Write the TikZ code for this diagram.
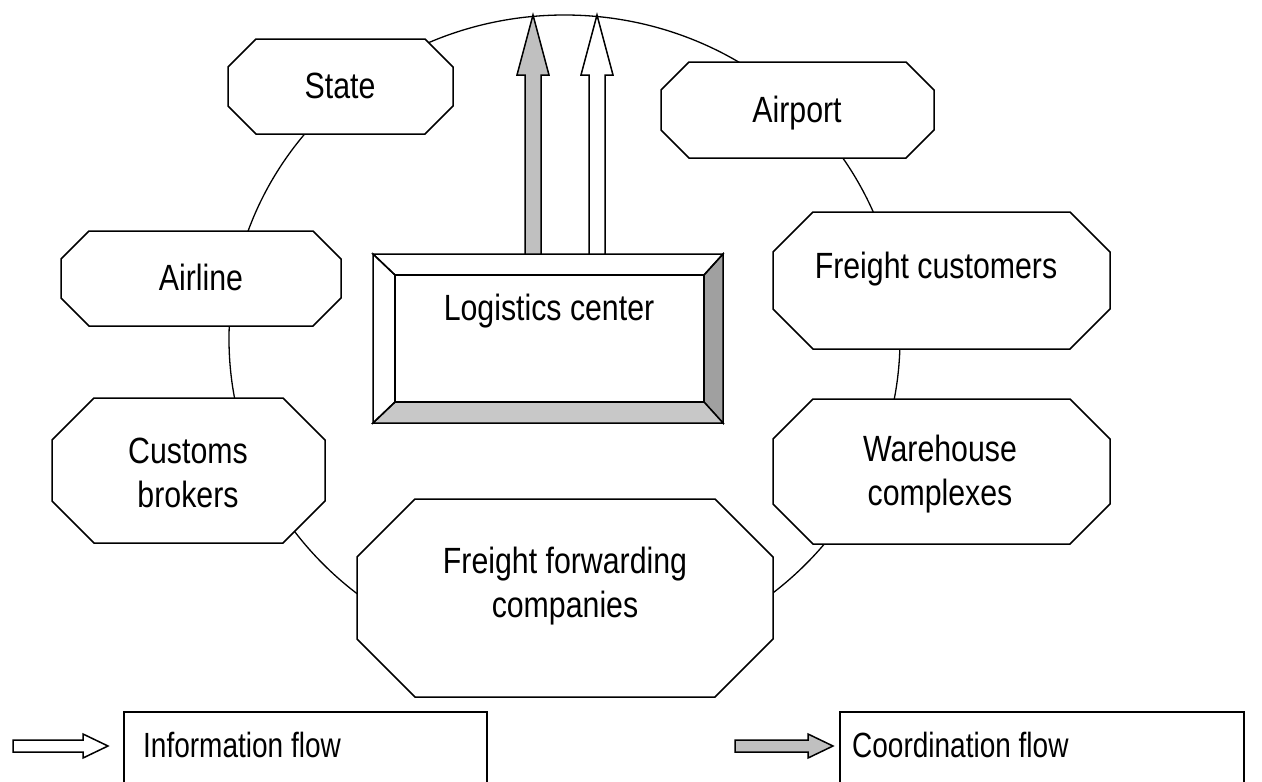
\documentclass[tikz,border=0pt]{standalone}
\usepackage{fontspec}
\setmainfont[FakeStretch=0.8]{Liberation Sans}
\newfontfamily\labelfont[FakeStretch=0.83]{Liberation Sans}
\usetikzlibrary{calc}

\definecolor{coordgray}{HTML}{C0C0C0}
\definecolor{bevellight}{HTML}{C8C8C8}
\definecolor{beveldark}{HTML}{A0A0A0}

\tikzset{
  hull/.style={draw=none, inner sep=0pt, outer sep=0pt},
  octline/.style={draw, fill=white, line width=1.5pt, line join=miter},
  ring/.style={draw, line width=1.3pt},
  label/.style={font=\labelfont\fontsize{36.5}{44}\selectfont, inner sep=0pt, outer sep=0pt, anchor=base, align=center},
  legendtext/.style={font=\fontsize{35}{43}\selectfont, inner sep=0pt, anchor=base west},
  flowarrow/.style={draw, line width=1.5pt, line join=miter},
  legendbox/.style={draw, line width=1.4pt},
  bevel/.style={draw, line width=1.5pt, line join=miter}
}

% octagon with clipped corners: name, x1, y1, x2, y2, corner cut
\newcommand\octbox[6]{%
  \node[hull, minimum width={(#4-#2)*1pt}, minimum height={(#5-#3)*1pt}] (#1) at ({(#2+#4)/2},{(#3+#5)/2}) {};
  \draw[octline]
    ([xshift=#6pt]#1.north west) -- ([xshift=-#6pt]#1.north east)
    -- ([yshift=-#6pt]#1.north east) -- ([yshift=#6pt]#1.south east)
    -- ([xshift=-#6pt]#1.south east) -- ([xshift=#6pt]#1.south west)
    -- ([yshift=#6pt]#1.south west) -- ([yshift=-#6pt]#1.north west) -- cycle;
}

\begin{document}
\begin{tikzpicture}[x=1pt, y=-1pt]
\useasboundingbox (0,0) rectangle (1262,782);

% the ring joining all participants
\node[hull] (hub) at (564.5,339) {};
\draw[ring] (hub) ellipse [x radius=335.5, y radius=324];

% participants
\octbox{state}{228}{39}{453}{134}{28}
\octbox{airline}{61}{231}{341}{326}{28}
\octbox{airport}{661}{62}{934}{158}{28}
\octbox{fcust}{773}{212}{1110}{349}{40}
\octbox{customs}{52}{398}{325}{543}{42}
\octbox{ware}{773}{399}{1110}{544}{40}
\octbox{ffwd}{357}{499}{773}{697}{58}

% labels (two-line labels are placed by the baseline of their last line)
\node[label] (tstate) at (340,98) {State};
\node[label] (tairline) at (201,290) {Airline};
\node[label] (tairport) at (797,122) {Airport};
\node[label] (tfcust) at (936,278) {Freight customers};
\node[label] (tcustoms) at (188,507) {Customs\\brokers};
\node[label] (tware) at (940,505) {Warehouse\\complexes};
\node[label] (tffwd) at (565,617) {Freight forwarding\\companies};

% logistics center: bevelled frame
\node[hull, minimum width=350pt, minimum height=169pt] (lc) at (548,338.5) {};
\coordinate (lc-inw) at ($(lc.north west)+(22,21)$);
\coordinate (lc-ine) at ($(lc.north east)+(-19,21)$);
\coordinate (lc-ise) at ($(lc.south east)+(-19,-21)$);
\coordinate (lc-isw) at ($(lc.south west)+(22,-21)$);
\fill[white] (lc.north west) rectangle (lc.south east);
\draw[bevel, fill=beveldark] (lc.north east) -- (lc.south east) -- (lc-ise) -- (lc-ine) -- cycle;
\draw[bevel, fill=bevellight] (lc.south west) -- (lc-isw) -- (lc-ise) -- (lc.south east) -- cycle;
\draw[bevel] (lc.north west) -- (lc-inw) -- (lc-isw) -- (lc.south west) -- cycle;
\draw[bevel] (lc.north west) -- (lc.north east) -- (lc-ine) -- (lc-inw) -- cycle;
\draw[bevel] (lc-inw) rectangle (lc-ise);
\node[label] (tlc) at (549,320) {Logistics center};

% flows from the logistics center up to the ring
\coordinate (ctip) at (533,15);
\coordinate (itip) at (597,15);
\coordinate (cbase) at (lc.north -| ctip);
\coordinate (ibase) at (lc.north -| itip);
\draw[flowarrow, fill=coordgray] ($(cbase)+(-8,0)$) -- ($(ctip)+(-8,60)$) -- ($(ctip)+(-16,60)$)
  -- (ctip) -- ($(ctip)+(16,60)$) -- ($(ctip)+(8,60)$) -- ($(cbase)+(8,0)$) -- cycle;
\draw[flowarrow, fill=white] ($(ibase)+(-8,0)$) -- ($(itip)+(-8,60)$) -- ($(itip)+(-16,60)$)
  -- (itip) -- ($(itip)+(16,60)$) -- ($(itip)+(8,60)$) -- ($(ibase)+(8,0)$) -- cycle;

% legend
\node[hull, minimum width=363pt, minimum height=71pt] (infobox) at (305.5,747.5) {};
\draw[legendbox] (infobox.north west) rectangle (infobox.south east);
\node[legendtext] (tinfo) at (143,757) {Information flow};
\coordinate (iltail) at (13,746);
\coordinate (iltip) at (108,746);
\draw[flowarrow, fill=white] ($(iltail)+(0,-6)$) -- ($(iltip)+(-25,-6)$) -- ($(iltip)+(-25,-12)$)
  -- (iltip) -- ($(iltip)+(-25,12)$) -- ($(iltip)+(-25,6)$) -- ($(iltail)+(0,6)$) -- cycle;

\node[hull, minimum width=404pt, minimum height=71pt] (coordbox) at (1042,747.5) {};
\draw[legendbox] (coordbox.north west) rectangle (coordbox.south east);
\node[legendtext] (tcoord) at (852,757) {Coordination flow};
\coordinate (cltail) at (735,746);
\coordinate (cltip) at (833,746);
\draw[flowarrow, fill=coordgray] ($(cltail)+(0,-6)$) -- ($(cltip)+(-25,-6)$) -- ($(cltip)+(-25,-12)$)
  -- (cltip) -- ($(cltip)+(-25,12)$) -- ($(cltip)+(-25,6)$) -- ($(cltail)+(0,6)$) -- cycle;
\end{tikzpicture}
\end{document}
